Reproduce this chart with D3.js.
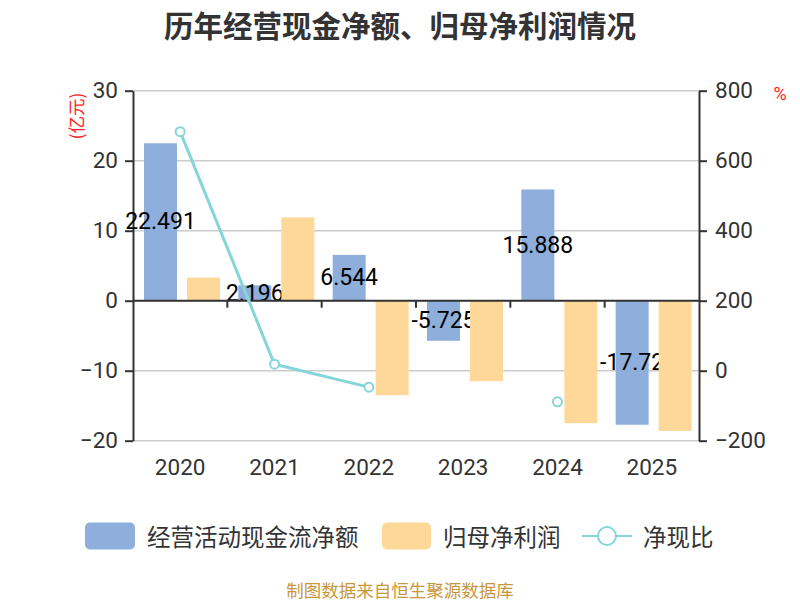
<!DOCTYPE html>
<html lang="zh">
<head>
<meta charset="UTF-8">
<title>历年经营现金净额、归母净利润情况</title>
<script src="https://cdn.jsdelivr.net/npm/d3@7"></script>
<style>
    body { margin: 0; background: #fff; }
    text { font-family: Roboto, "Noto Sans CJK SC", sans-serif; }
    .cjk { font-family: "Noto Sans CJK SC", sans-serif; }
</style>
</head>
<body>
<script>
    // 数据
    var years = ["2020", "2021", "2022", "2023", "2024", "2025"];
    var cashFlow = [22.491, 2.196, 6.544, -5.725, 15.888, -17.72];   // 经营活动现金流净额(亿元)
    var netProfit = [3.3, 11.9, -13.5, -11.5, -17.5, -18.6];          // 归母净利润(亿元)
    var cashRatio = [683, 18.5, -47, null, -89, null];                // 净现比(%)
    var leftTicks = [-20, -10, 0, 10, 20, 30];
    var rightTicks = [-200, 0, 200, 400, 600, 800];

    var W = 800, H = 600;
    var plotLeft = 133, plotRight = 699, plotTop = 90.7, plotBottom = 440.7;
    var blue = "#8eaedc", orange = "#fed899", teal = "#84d6d8";

    var svg = d3.select("body").append("svg").attr("width", W).attr("height", H);

    var x0 = d3.scaleBand().domain(years).range([plotLeft, plotRight]);
    var x1 = d3.scaleBand().domain(["cash", "profit"]).range([11, 87]).paddingInner(0.2326);
    var yL = d3.scaleLinear().domain([-20, 30]).range([plotBottom, plotTop]);
    var yR = d3.scaleLinear().domain([-200, 800]).range([plotBottom, plotTop]);

    // 标题
    svg.append("text").attr("class", "cjk").attr("x", W / 2).attr("y", 24)
        .attr("text-anchor", "middle").attr("dominant-baseline", "central")
        .attr("font-size", 29.5).attr("font-weight", "bold").attr("fill", "#333")
        .text("历年经营现金净额、归母净利润情况");

    // 网格线
    svg.append("g").selectAll("line").data(leftTicks).enter().append("line")
        .attr("x1", plotLeft).attr("x2", plotRight)
        .attr("y1", function (d) { return yL(d); }).attr("y2", function (d) { return yL(d); })
        .attr("stroke", "#cccccc").attr("stroke-width", 1.5);

    // 左轴
    var gL = svg.append("g").attr("transform", "translate(" + plotLeft + ",0)")
        .call(d3.axisLeft(yL).tickValues(leftTicks).tickSize(8).tickSizeOuter(0).tickPadding(7));
    // 右轴
    var gR = svg.append("g").attr("transform", "translate(" + plotRight + ",0)")
        .call(d3.axisRight(yR).tickValues(rightTicks).tickSize(8).tickSizeOuter(0).tickPadding(8));
    [gL, gR].forEach(function (g) {
        g.selectAll("path, line").attr("stroke", "#333").attr("stroke-width", 2);
        g.selectAll("text").attr("fill", "#333").attr("font-size", 22.5)
            .attr("font-family", "Roboto, sans-serif");
    });

    // 横轴标签
    var gX = svg.append("g").attr("transform", "translate(0," + plotBottom + ")")
        .call(d3.axisBottom(x0).tickSize(0).tickPadding(18));
    gX.select(".domain").remove();
    gX.selectAll("text").attr("fill", "#333").attr("font-size", 22.5)
        .attr("font-family", "Roboto, sans-serif");

    // 单位
    svg.append("text").attr("class", "cjk")
        .attr("transform", "translate(75,116) rotate(-90)")
        .attr("text-anchor", "middle").attr("dominant-baseline", "central")
        .attr("font-size", 17.5).attr("fill", "#ff2222").text("(亿元)");
    svg.append("text").attr("x", 780).attr("y", 93)
        .attr("text-anchor", "middle").attr("dominant-baseline", "central")
        .attr("font-size", 18).attr("fill", "#ff2222").text("%");

    // 经营活动现金流净额 柱子和标签
    svg.append("g").selectAll("rect").data(years).enter().append("rect")
        .attr("x", function (d) { return x0(d) + x1("cash"); })
        .attr("width", x1.bandwidth())
        .attr("y", function (d, i) { return yL(Math.max(0, cashFlow[i])); })
        .attr("height", function (d, i) { return Math.abs(yL(cashFlow[i]) - yL(0)); })
        .attr("fill", blue);
    svg.append("g").selectAll("text").data(years).enter().append("text")
        .attr("x", function (d) { return x0(d) + x1("cash") + x1.bandwidth() / 2; })
        .attr("y", function (d, i) { return (yL(cashFlow[i]) + yL(0)) / 2; })
        .attr("text-anchor", "middle").attr("dominant-baseline", "central")
        .attr("font-size", 23).attr("fill", "#000")
        .text(function (d, i) { return cashFlow[i]; });

    // 归母净利润 柱子
    svg.append("g").selectAll("rect").data(years).enter().append("rect")
        .attr("x", function (d) { return x0(d) + x1("profit"); })
        .attr("width", x1.bandwidth())
        .attr("y", function (d, i) { return yL(Math.max(0, netProfit[i])); })
        .attr("height", function (d, i) { return Math.abs(yL(netProfit[i]) - yL(0)); })
        .attr("fill", orange);

    // 零轴
    svg.append("line").attr("x1", plotLeft).attr("x2", plotRight)
        .attr("y1", yL(0)).attr("y2", yL(0)).attr("stroke", "#333").attr("stroke-width", 2);
    svg.append("g").selectAll("line").data(years.slice(1)).enter().append("line")
        .attr("x1", function (d) { return x0(d); }).attr("x2", function (d) { return x0(d); })
        .attr("y1", yL(0)).attr("y2", yL(0) + 7).attr("stroke", "#333").attr("stroke-width", 2);

    // 净现比 折线
    var pts = years.map(function (d, i) { return { x: x0(d) + x0.bandwidth() / 2, v: cashRatio[i] }; });
    var line = d3.line().defined(function (d) { return d.v !== null; })
        .x(function (d) { return d.x; }).y(function (d) { return yR(d.v); });
    svg.append("path").datum(pts).attr("d", line)
        .attr("fill", "none").attr("stroke", teal).attr("stroke-width", 3);
    svg.append("g").selectAll("circle").data(pts.filter(function (d) { return d.v !== null; }))
        .enter().append("circle")
        .attr("cx", function (d) { return d.x; }).attr("cy", function (d) { return yR(d.v); })
        .attr("r", 4.5).attr("fill", "#fff").attr("stroke", teal).attr("stroke-width", 2);

    // 图例
    var lg = svg.append("g");
    lg.append("rect").attr("x", 85).attr("y", 522.5).attr("width", 50).attr("height", 27)
        .attr("rx", 5).attr("fill", blue);
    lg.append("text").attr("class", "cjk").attr("x", 147).attr("y", 536)
        .attr("dominant-baseline", "central").attr("font-size", 23.5).attr("fill", "#333")
        .text("经营活动现金流净额");
    lg.append("rect").attr("x", 382).attr("y", 522.5).attr("width", 49).attr("height", 27)
        .attr("rx", 5).attr("fill", orange);
    lg.append("text").attr("class", "cjk").attr("x", 443).attr("y", 536)
        .attr("dominant-baseline", "central").attr("font-size", 23.5).attr("fill", "#333")
        .text("归母净利润");
    lg.append("line").attr("x1", 582).attr("x2", 632).attr("y1", 536).attr("y2", 536)
        .attr("stroke", teal).attr("stroke-width", 2);
    lg.append("circle").attr("cx", 607).attr("cy", 536).attr("r", 9)
        .attr("fill", "#fff").attr("stroke", teal).attr("stroke-width", 2);
    lg.append("text").attr("class", "cjk").attr("x", 643).attr("y", 536)
        .attr("dominant-baseline", "central").attr("font-size", 23.5).attr("fill", "#333")
        .text("净现比");

    // 来源
    svg.append("text").attr("class", "cjk").attr("x", 400).attr("y", 589)
        .attr("text-anchor", "middle").attr("dominant-baseline", "central")
        .attr("font-size", 17.5).attr("fill", "#c9973b")
        .text("制图数据来自恒生聚源数据库");
</script>
</body>
</html>
